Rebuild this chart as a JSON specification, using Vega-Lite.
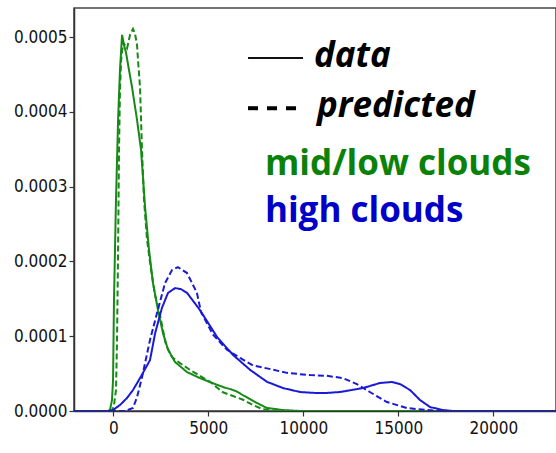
{
  "$schema": "https://vega.github.io/schema/vega-lite/v6.json",
  "autosize": "none",
  "width": 482,
  "height": 403,
  "padding": {"left": 74, "top": 8, "right": 0, "bottom": 42},
  "background": "white",
  "config": {
    "view": {"stroke": "#444", "strokeWidth": 1.5},
    "axis": {
      "grid": false,
      "domainColor": "#333",
      "domainWidth": 1.5,
      "tickColor": "#333",
      "tickSize": 5,
      "tickWidth": 1.2,
      "labelFont": "DejaVu Sans Condensed",
      "labelFontSize": 17,
      "labelColor": "#111",
      "title": null
    }
  },
  "datasets": {
    "curves": [
      {"x": -2070, "y": 0, "s": "mid/low", "k": "data"},
      {"x": -700, "y": 0, "s": "mid/low", "k": "data"},
      {"x": -280, "y": 0, "s": "mid/low", "k": "data"},
      {"x": -175, "y": 0.0000013, "s": "mid/low", "k": "data"},
      {"x": -70, "y": 0.0000147, "s": "mid/low", "k": "data"},
      {"x": -15, "y": 0.0000414, "s": "mid/low", "k": "data"},
      {"x": 35, "y": 0.0001484, "s": "mid/low", "k": "data"},
      {"x": 140, "y": 0.000282, "s": "mid/low", "k": "data"},
      {"x": 250, "y": 0.000389, "s": "mid/low", "k": "data"},
      {"x": 350, "y": 0.000456, "s": "mid/low", "k": "data"},
      {"x": 460, "y": 0.000503, "s": "mid/low", "k": "data"},
      {"x": 565, "y": 0.000489, "s": "mid/low", "k": "data"},
      {"x": 670, "y": 0.000479, "s": "mid/low", "k": "data"},
      {"x": 825, "y": 0.000456, "s": "mid/low", "k": "data"},
      {"x": 985, "y": 0.000433, "s": "mid/low", "k": "data"},
      {"x": 1250, "y": 0.000389, "s": "mid/low", "k": "data"},
      {"x": 1460, "y": 0.000349, "s": "mid/low", "k": "data"},
      {"x": 1670, "y": 0.000273, "s": "mid/low", "k": "data"},
      {"x": 1880, "y": 0.000215, "s": "mid/low", "k": "data"},
      {"x": 2090, "y": 0.000171, "s": "mid/low", "k": "data"},
      {"x": 2350, "y": 0.000135, "s": "mid/low", "k": "data"},
      {"x": 2615, "y": 0.000104, "s": "mid/low", "k": "data"},
      {"x": 2880, "y": 0.000082, "s": "mid/low", "k": "data"},
      {"x": 3250, "y": 0.0000655, "s": "mid/low", "k": "data"},
      {"x": 3880, "y": 0.000052, "s": "mid/low", "k": "data"},
      {"x": 4560, "y": 0.000044, "s": "mid/low", "k": "data"},
      {"x": 5460, "y": 0.000035, "s": "mid/low", "k": "data"},
      {"x": 5900, "y": 0.000031, "s": "mid/low", "k": "data"},
      {"x": 6200, "y": 0.000029, "s": "mid/low", "k": "data"},
      {"x": 6500, "y": 0.000026, "s": "mid/low", "k": "data"},
      {"x": 6830, "y": 0.000021, "s": "mid/low", "k": "data"},
      {"x": 7560, "y": 0.0000107, "s": "mid/low", "k": "data"},
      {"x": 8090, "y": 0.000004, "s": "mid/low", "k": "data"},
      {"x": 8930, "y": 0.0000013, "s": "mid/low", "k": "data"},
      {"x": 9830, "y": 0, "s": "mid/low", "k": "data"},
      {"x": 23300, "y": 0, "s": "mid/low", "k": "data"},

      {"x": -2070, "y": 0, "s": "mid/low", "k": "predicted"},
      {"x": -280, "y": 0, "s": "mid/low", "k": "predicted"},
      {"x": -70, "y": 0, "s": "mid/low", "k": "predicted"},
      {"x": 35, "y": 0.000008, "s": "mid/low", "k": "predicted"},
      {"x": 140, "y": 0.000028, "s": "mid/low", "k": "predicted"},
      {"x": 195, "y": 0.000095, "s": "mid/low", "k": "predicted"},
      {"x": 250, "y": 0.000215, "s": "mid/low", "k": "predicted"},
      {"x": 300, "y": 0.000349, "s": "mid/low", "k": "predicted"},
      {"x": 350, "y": 0.000429, "s": "mid/low", "k": "predicted"},
      {"x": 410, "y": 0.000469, "s": "mid/low", "k": "predicted"},
      {"x": 510, "y": 0.000493, "s": "mid/low", "k": "predicted"},
      {"x": 615, "y": 0.000489, "s": "mid/low", "k": "predicted"},
      {"x": 720, "y": 0.000485, "s": "mid/low", "k": "predicted"},
      {"x": 880, "y": 0.000503, "s": "mid/low", "k": "predicted"},
      {"x": 1035, "y": 0.000511, "s": "mid/low", "k": "predicted"},
      {"x": 1140, "y": 0.000505, "s": "mid/low", "k": "predicted"},
      {"x": 1250, "y": 0.000489, "s": "mid/low", "k": "predicted"},
      {"x": 1300, "y": 0.000469, "s": "mid/low", "k": "predicted"},
      {"x": 1405, "y": 0.000433, "s": "mid/low", "k": "predicted"},
      {"x": 1460, "y": 0.000389, "s": "mid/low", "k": "predicted"},
      {"x": 1510, "y": 0.000349, "s": "mid/low", "k": "predicted"},
      {"x": 1615, "y": 0.000282, "s": "mid/low", "k": "predicted"},
      {"x": 1775, "y": 0.000229, "s": "mid/low", "k": "predicted"},
      {"x": 1985, "y": 0.000189, "s": "mid/low", "k": "predicted"},
      {"x": 2195, "y": 0.000155, "s": "mid/low", "k": "predicted"},
      {"x": 2460, "y": 0.000128, "s": "mid/low", "k": "predicted"},
      {"x": 2775, "y": 0.000088, "s": "mid/low", "k": "predicted"},
      {"x": 3090, "y": 0.000072, "s": "mid/low", "k": "predicted"},
      {"x": 3510, "y": 0.000064, "s": "mid/low", "k": "predicted"},
      {"x": 4040, "y": 0.000055, "s": "mid/low", "k": "predicted"},
      {"x": 4560, "y": 0.000047, "s": "mid/low", "k": "predicted"},
      {"x": 5090, "y": 0.000039, "s": "mid/low", "k": "predicted"},
      {"x": 5770, "y": 0.000025, "s": "mid/low", "k": "predicted"},
      {"x": 6300, "y": 0.00002, "s": "mid/low", "k": "predicted"},
      {"x": 6830, "y": 0.000015, "s": "mid/low", "k": "predicted"},
      {"x": 7350, "y": 0.000008, "s": "mid/low", "k": "predicted"},
      {"x": 7830, "y": 0.0000027, "s": "mid/low", "k": "predicted"},
      {"x": 8510, "y": 0, "s": "mid/low", "k": "predicted"},
      {"x": 12000, "y": 0, "s": "mid/low", "k": "predicted"},

      {"x": -2070, "y": 0, "s": "high", "k": "data"},
      {"x": -280, "y": 0, "s": "high", "k": "data"},
      {"x": -15, "y": 0.0000013, "s": "high", "k": "data"},
      {"x": 350, "y": 0.000008, "s": "high", "k": "data"},
      {"x": 720, "y": 0.0000174, "s": "high", "k": "data"},
      {"x": 1035, "y": 0.000028, "s": "high", "k": "data"},
      {"x": 1405, "y": 0.000044, "s": "high", "k": "data"},
      {"x": 1930, "y": 0.000068, "s": "high", "k": "data"},
      {"x": 2200, "y": 0.000104, "s": "high", "k": "data"},
      {"x": 2560, "y": 0.000138, "s": "high", "k": "data"},
      {"x": 2880, "y": 0.000158, "s": "high", "k": "data"},
      {"x": 3250, "y": 0.0001644, "s": "high", "k": "data"},
      {"x": 3560, "y": 0.000163, "s": "high", "k": "data"},
      {"x": 3880, "y": 0.000158, "s": "high", "k": "data"},
      {"x": 4560, "y": 0.000135, "s": "high", "k": "data"},
      {"x": 5460, "y": 0.000099, "s": "high", "k": "data"},
      {"x": 6300, "y": 0.000075, "s": "high", "k": "data"},
      {"x": 7200, "y": 0.000055, "s": "high", "k": "data"},
      {"x": 8090, "y": 0.000039, "s": "high", "k": "data"},
      {"x": 8930, "y": 0.0000307, "s": "high", "k": "data"},
      {"x": 9830, "y": 0.0000254, "s": "high", "k": "data"},
      {"x": 10720, "y": 0.000024, "s": "high", "k": "data"},
      {"x": 11140, "y": 0.000024, "s": "high", "k": "data"},
      {"x": 11930, "y": 0.0000254, "s": "high", "k": "data"},
      {"x": 13140, "y": 0.0000307, "s": "high", "k": "data"},
      {"x": 14030, "y": 0.0000374, "s": "high", "k": "data"},
      {"x": 14660, "y": 0.0000388, "s": "high", "k": "data"},
      {"x": 15090, "y": 0.000036, "s": "high", "k": "data"},
      {"x": 15620, "y": 0.000028, "s": "high", "k": "data"},
      {"x": 16140, "y": 0.0000147, "s": "high", "k": "data"},
      {"x": 16670, "y": 0.0000053, "s": "high", "k": "data"},
      {"x": 17350, "y": 0.0000013, "s": "high", "k": "data"},
      {"x": 17880, "y": 0, "s": "high", "k": "data"},
      {"x": 23300, "y": 0, "s": "high", "k": "data"},

      {"x": -2070, "y": 0, "s": "high", "k": "predicted"},
      {"x": 620, "y": 0, "s": "high", "k": "predicted"},
      {"x": 1035, "y": 0.000004, "s": "high", "k": "predicted"},
      {"x": 1250, "y": 0.0000187, "s": "high", "k": "predicted"},
      {"x": 1510, "y": 0.000045, "s": "high", "k": "predicted"},
      {"x": 1930, "y": 0.000095, "s": "high", "k": "predicted"},
      {"x": 2300, "y": 0.000131, "s": "high", "k": "predicted"},
      {"x": 2720, "y": 0.000171, "s": "high", "k": "predicted"},
      {"x": 3090, "y": 0.0001885, "s": "high", "k": "predicted"},
      {"x": 3400, "y": 0.0001925, "s": "high", "k": "predicted"},
      {"x": 3880, "y": 0.0001845, "s": "high", "k": "predicted"},
      {"x": 4400, "y": 0.000158, "s": "high", "k": "predicted"},
      {"x": 4620, "y": 0.000132, "s": "high", "k": "predicted"},
      {"x": 5250, "y": 0.000102, "s": "high", "k": "predicted"},
      {"x": 5980, "y": 0.000082, "s": "high", "k": "predicted"},
      {"x": 6670, "y": 0.000071, "s": "high", "k": "predicted"},
      {"x": 7350, "y": 0.000061, "s": "high", "k": "predicted"},
      {"x": 8090, "y": 0.000057, "s": "high", "k": "predicted"},
      {"x": 9140, "y": 0.000051, "s": "high", "k": "predicted"},
      {"x": 10350, "y": 0.000048, "s": "high", "k": "predicted"},
      {"x": 11240, "y": 0.000047, "s": "high", "k": "predicted"},
      {"x": 12080, "y": 0.000044, "s": "high", "k": "predicted"},
      {"x": 12820, "y": 0.000036, "s": "high", "k": "predicted"},
      {"x": 13500, "y": 0.0000254, "s": "high", "k": "predicted"},
      {"x": 14400, "y": 0.000012, "s": "high", "k": "predicted"},
      {"x": 15450, "y": 0.000004, "s": "high", "k": "predicted"},
      {"x": 16500, "y": 0.0000013, "s": "high", "k": "predicted"},
      {"x": 17190, "y": 0, "s": "high", "k": "predicted"},
      {"x": 22300, "y": 0, "s": "high", "k": "predicted"}
    ],
    "keys": [
      {"x": 7090, "x2": 9985, "y": 0.000472, "k": "data"},
      {"x": 7090, "x2": 9985, "y": 0.000405, "k": "predicted"}
    ],
    "labels": [
      {"x": 10563, "y": 0.00046, "t": "data", "g": "key"},
      {"x": 10720, "y": 0.000393, "t": "predicted", "g": "key"},
      {"x": 7980, "y": 0.0003155, "t": "mid/low clouds", "g": "mid/low"},
      {"x": 7980, "y": 0.0002527, "t": "high clouds", "g": "high"}
    ]
  },
  "layer": [
    {
      "data": {"name": "curves"},
      "mark": {"type": "line", "strokeWidth": 2, "clip": true},
      "encoding": {
        "x": {
          "field": "x", "type": "quantitative",
          "scale": {"domain": [-2070, 23300], "nice": false, "zero": false},
          "axis": {"values": [0, 5000, 10000, 15000, 20000], "format": "d", "labelPadding": 4}
        },
        "y": {
          "field": "y", "type": "quantitative",
          "scale": {"domain": [0, 0.000539], "nice": false},
          "axis": {"values": [0, 0.0001, 0.0002, 0.0003, 0.0004, 0.0005], "format": ".4f", "labelPadding": 2}
        },
        "color": {
          "field": "s", "type": "nominal",
          "scale": {"domain": ["mid/low", "high"], "range": ["#158a15", "#1a1ad6"]},
          "legend": null
        },
        "strokeDash": {
          "field": "k", "type": "nominal",
          "scale": {"domain": ["data", "predicted"], "range": [[1, 0], [6, 3]]},
          "legend": null
        },
        "detail": {"field": "k"}
      }
    },
    {
      "data": {"name": "keys"},
      "transform": [{"filter": "datum.k === 'data'"}],
      "mark": {"type": "rule", "color": "#111", "strokeWidth": 2},
      "encoding": {
        "x": {"field": "x", "type": "quantitative"},
        "x2": {"field": "x2"},
        "y": {"field": "y", "type": "quantitative"}
      }
    },
    {
      "data": {"name": "keys"},
      "transform": [{"filter": "datum.k === 'predicted'"}],
      "mark": {"type": "rule", "color": "#000", "strokeWidth": 4, "strokeDash": [10, 9]},
      "encoding": {
        "x": {"field": "x", "type": "quantitative"},
        "x2": {"field": "x2"},
        "y": {"field": "y", "type": "quantitative"}
      }
    },
    {
      "data": {"name": "labels"},
      "transform": [{"filter": "datum.g === 'key'"}],
      "mark": {"type": "text", "align": "left", "baseline": "alphabetic", "font": "Open Sans", "fontSize": 35, "fontWeight": "bold", "fontStyle": "italic", "color": "#000"},
      "encoding": {
        "x": {"field": "x", "type": "quantitative"},
        "y": {"field": "y", "type": "quantitative"},
        "text": {"field": "t"}
      }
    },
    {
      "data": {"name": "labels"},
      "transform": [{"filter": "datum.g === 'mid/low'"}],
      "mark": {"type": "text", "align": "left", "baseline": "alphabetic", "font": "Open Sans", "fontSize": 35, "fontWeight": "bold", "color": "#0a820a"},
      "encoding": {
        "x": {"field": "x", "type": "quantitative"},
        "y": {"field": "y", "type": "quantitative"},
        "text": {"field": "t"}
      }
    },
    {
      "data": {"name": "labels"},
      "transform": [{"filter": "datum.g === 'high'"}],
      "mark": {"type": "text", "align": "left", "baseline": "alphabetic", "font": "Open Sans", "fontSize": 35, "fontWeight": "bold", "color": "#0000c8"},
      "encoding": {
        "x": {"field": "x", "type": "quantitative"},
        "y": {"field": "y", "type": "quantitative"},
        "text": {"field": "t"}
      }
    }
  ]
}
